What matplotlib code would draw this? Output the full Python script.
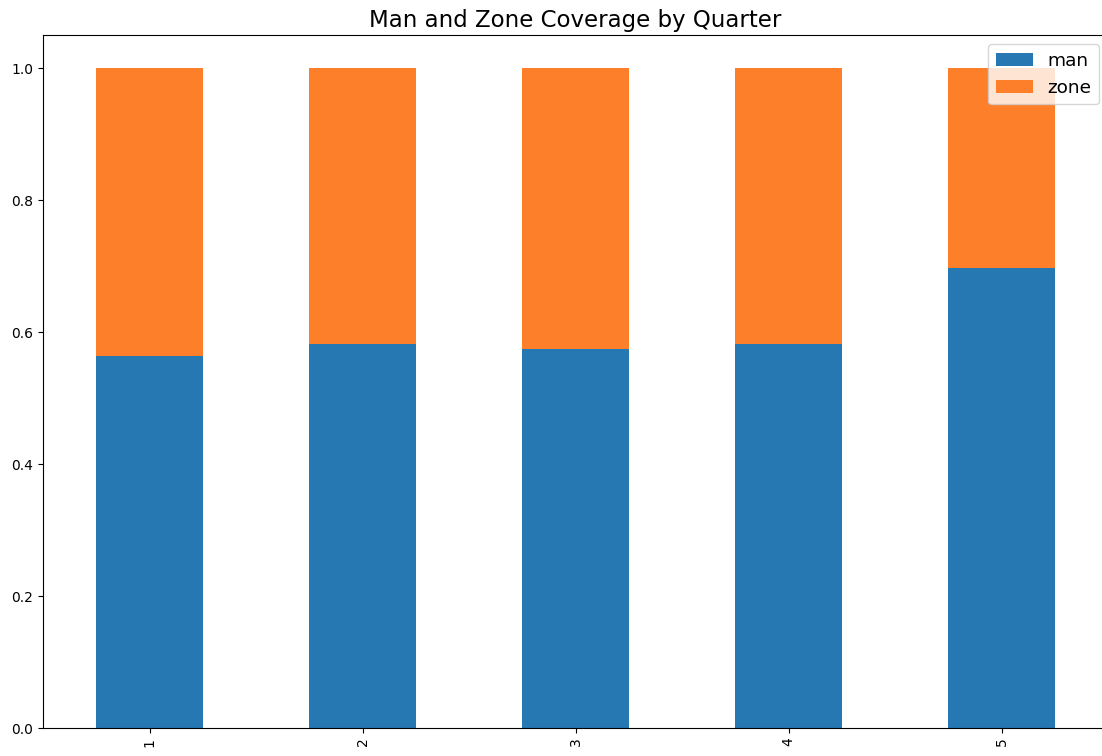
import matplotlib
matplotlib.use("Agg")
import matplotlib.pyplot as plt
import numpy as np

quarters = ["1", "2", "3", "4", "5"]
man = [0.563, 0.582, 0.574, 0.582, 0.697]
zone = [1 - m for m in man]

fig = plt.figure(figsize=(11.02, 7.56), dpi=100)
# plot area runs a little past the right edge, as in the cropped original
ax = fig.add_axes([43 / 1102, 28 / 756, 1065 / 1102, 693 / 756])

x = np.arange(len(quarters))
ax.bar(x, man, width=0.5, color="#2678b2", label="man")
ax.bar(x, zone, width=0.5, bottom=man, color="#fe7f2a", label="zone")

ax.set_xlim(-0.5, len(quarters) - 0.5)
ax.set_ylim(0, 1.05)
ax.set_xticks(x)
ax.set_xticklabels(quarters, rotation=90, fontsize=10)
ax.set_yticks([0.0, 0.2, 0.4, 0.6, 0.8, 1.0])
ax.tick_params(axis="y", labelsize=10)
ax.set_title("Man and Zone Coverage by Quarter", fontsize=16.5)
ax.legend(loc="upper right", fontsize=13.3)

plt.savefig("out.png", dpi=100)
